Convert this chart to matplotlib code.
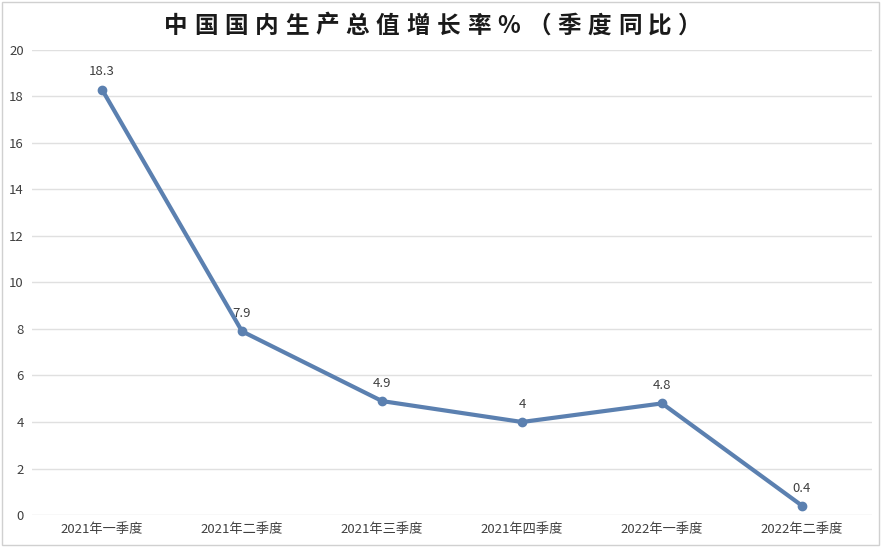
import matplotlib.pyplot as plt
from matplotlib.patches import Rectangle

plt.rcParams['font.family'] = ['Noto Sans CJK SC', 'DejaVu Sans']

quarters = ['2021年一季度', '2021年二季度', '2021年三季度', '2021年四季度',
            '2022年一季度', '2022年二季度']
growth = [18.3, 7.9, 4.9, 4, 4.8, 0.4]
labels = ['18.3', '7.9', '4.9', '4', '4.8', '0.4']
title = '中国国内生产总值增长率%（季度同比）'

fig = plt.figure(figsize=(8.82, 5.47), dpi=100)
ax = fig.add_axes([0.0363, 0.0585, 0.9524, 0.8501])

x = range(len(quarters))
line_color = '#5B80B0'
ax.plot(x, growth, '-o', color=line_color, lw=3, ms=6, zorder=3)
for i, (v, t) in enumerate(zip(growth, labels)):
    ax.annotate(t, (i, v), xytext=(0, 8), textcoords='offset points',
                ha='center', va='bottom', fontsize=9.5, color='#404040')

ax.set_xlim(-0.5, len(quarters) - 0.5)
ax.set_ylim(0, 20)
ax.set_yticks(range(0, 21, 2))
ax.set_xticks(list(x))
ax.set_xticklabels(quarters)
ax.tick_params(length=0, labelsize=9.5, colors='#404040')
ax.tick_params(axis='y', pad=6)
ax.tick_params(axis='x', pad=6)
ax.grid(axis='y', color='#e0e0e0', lw=1)
ax.set_axisbelow(True)
for s in ax.spines.values():
    s.set_visible(False)

# title with wide letter spacing
x0, step = 0.1995, 0.0343
for i, ch in enumerate(title):
    fig.text(x0 + i * step, 0.953, ch, ha='center', va='center',
             fontsize=17, fontweight='bold', color='#1a1a1a')

fig.patches.append(Rectangle((0.002, 0.003), 0.995, 0.994, transform=fig.transFigure,
                             fill=False, edgecolor='#d0d0d0', lw=1))

fig.savefig('out.png', dpi=100)
